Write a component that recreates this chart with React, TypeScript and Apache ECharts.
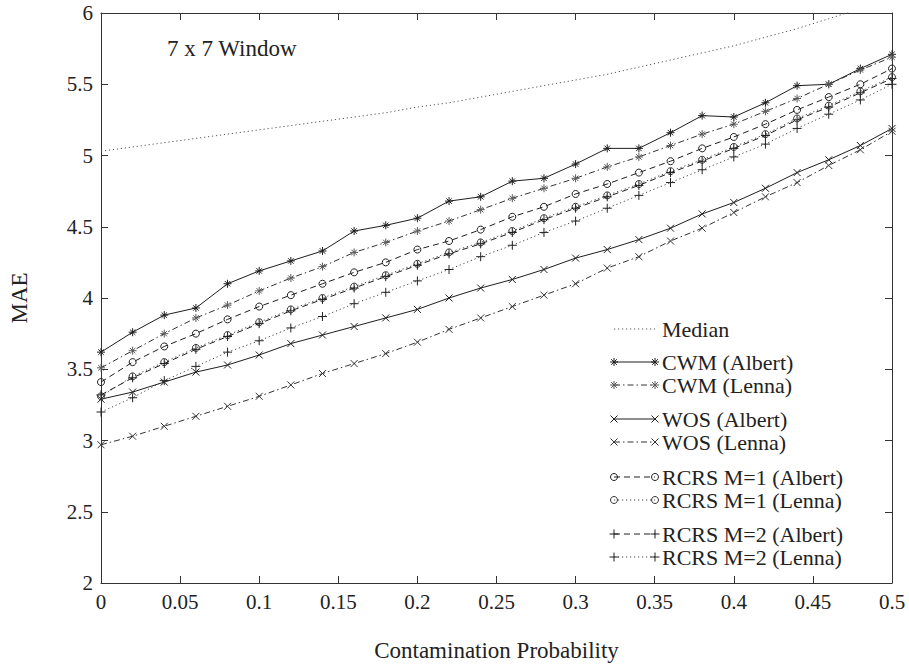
import React, { useEffect, useRef } from "react";
import * as echarts from "echarts";

// ---- data ----
const probabilities = [0, 0.02, 0.04, 0.06, 0.08, 0.1, 0.12, 0.14, 0.16, 0.18, 0.2, 0.22, 0.24, 0.26, 0.28, 0.3, 0.32, 0.34, 0.36, 0.38, 0.4, 0.42, 0.44, 0.46, 0.48, 0.5];

const medianMAE = [5.03, 5.06, 5.09, 5.12, 5.15, 5.18, 5.21, 5.24, 5.27, 5.3, 5.34, 5.37, 5.41, 5.45, 5.49, 5.53, 5.57, 5.62, 5.67, 5.72, 5.77, 5.83, 5.89, 5.96, 6.03, 6.1];
const cwmAlbert = [3.62, 3.76, 3.88, 3.93, 4.1, 4.19, 4.26, 4.33, 4.47, 4.51, 4.56, 4.68, 4.71, 4.82, 4.84, 4.94, 5.05, 5.05, 5.16, 5.28, 5.27, 5.37, 5.49, 5.5, 5.61, 5.71];
const cwmLenna = [3.51, 3.63, 3.75, 3.86, 3.95, 4.05, 4.14, 4.22, 4.32, 4.39, 4.47, 4.54, 4.62, 4.7, 4.77, 4.84, 4.92, 4.99, 5.07, 5.15, 5.22, 5.31, 5.4, 5.5, 5.6, 5.69];
const wosAlbert = [3.29, 3.34, 3.41, 3.48, 3.53, 3.6, 3.68, 3.74, 3.8, 3.86, 3.92, 4.0, 4.07, 4.13, 4.2, 4.28, 4.34, 4.41, 4.49, 4.59, 4.67, 4.77, 4.88, 4.97, 5.07, 5.19];
const wosLenna = [2.97, 3.03, 3.1, 3.17, 3.24, 3.31, 3.39, 3.47, 3.54, 3.61, 3.69, 3.78, 3.86, 3.94, 4.02, 4.1, 4.21, 4.29, 4.4, 4.49, 4.6, 4.71, 4.81, 4.93, 5.04, 5.17];
const rcrs1Albert = [3.41, 3.55, 3.66, 3.75, 3.85, 3.94, 4.02, 4.1, 4.18, 4.25, 4.34, 4.4, 4.48, 4.57, 4.64, 4.73, 4.8, 4.88, 4.96, 5.05, 5.13, 5.22, 5.32, 5.41, 5.5, 5.61];
const rcrs1Lenna = [3.31, 3.45, 3.55, 3.65, 3.74, 3.83, 3.92, 4.0, 4.08, 4.16, 4.24, 4.32, 4.39, 4.47, 4.56, 4.64, 4.72, 4.8, 4.89, 4.97, 5.06, 5.15, 5.26, 5.35, 5.45, 5.55];
const rcrs2Albert = [3.32, 3.44, 3.54, 3.64, 3.73, 3.82, 3.91, 3.99, 4.07, 4.15, 4.23, 4.31, 4.38, 4.46, 4.55, 4.63, 4.71, 4.79, 4.88, 4.96, 5.05, 5.14, 5.25, 5.34, 5.44, 5.54];
const rcrs2Lenna = [3.2, 3.3, 3.42, 3.52, 3.62, 3.7, 3.79, 3.87, 3.96, 4.04, 4.12, 4.2, 4.29, 4.37, 4.46, 4.54, 4.63, 4.72, 4.81, 4.9, 4.99, 5.08, 5.19, 5.29, 5.39, 5.5];

const xTickLabels = ["0", "0.05", "0.1", "0.15", "0.2", "0.25", "0.3", "0.35", "0.4", "0.45", "0.5"];
const yTickLabels = ["2", "2.5", "3", "3.5", "4", "4.5", "5", "5.5", "6"];

const seriesNames = [
  "Median",
  "CWM (Albert)",
  "CWM (Lenna)",
  "WOS (Albert)",
  "WOS (Lenna)",
  "RCRS M=1 (Albert)",
  "RCRS M=1 (Lenna)",
  "RCRS M=2 (Albert)",
  "RCRS M=2 (Lenna)",
];
const seriesValues = [medianMAE, cwmAlbert, cwmLenna, wosAlbert, wosLenna, rcrs1Albert, rcrs1Lenna, rcrs2Albert, rcrs2Lenna];

const titleText = "7 x 7 Window";
const xAxisTitle = "Contamination Probability";
const yAxisTitle = "MAE";

// ---- styling ----
const FONT = "'Liberation Serif', 'Times New Roman', serif";
const DARK = "#1e1e1e";

type Marker = "none" | "star" | "x" | "circle" | "plus";
const SOLID: number[] = [];
const DASHDOT = [6, 3, 1.5, 3];
const DASHED = [6, 4];
const DOTTED = [1.2, 2.8];

const styles: { marker: Marker; dash: number[]; line: string; mark: string }[] = [
  { marker: "none", dash: DOTTED, line: "#555", mark: "#555" },
  { marker: "star", dash: SOLID, line: DARK, mark: DARK },
  { marker: "star", dash: DASHDOT, line: "#333", mark: "#5a5a5a" },
  { marker: "x", dash: SOLID, line: DARK, mark: DARK },
  { marker: "x", dash: DASHDOT, line: "#333", mark: "#333" },
  { marker: "circle", dash: DASHED, line: DARK, mark: DARK },
  { marker: "circle", dash: DOTTED, line: "#444", mark: "#333" },
  { marker: "plus", dash: DASHED, line: DARK, mark: DARK },
  { marker: "plus", dash: DOTTED, line: "#444", mark: "#222" },
];

const symbolFor: Record<Marker, string> = {
  none: "none",
  star: "path://M0 5L10 5M5 0L5 10M1.6 1.6L8.4 8.4M8.4 1.6L1.6 8.4",
  x: "path://M0 0L10 10M10 0L0 10",
  plus: "path://M0 5L10 5M5 0L5 10",
  circle: "circle",
};
const sizeFor: Record<Marker, number> = { none: 0, star: 8, x: 7, plus: 9, circle: 7 };

// legend layout
const legendRowsY = [329, 362, 385, 419, 442, 477, 500, 534, 557];
const legendLineX1 = 614;
const legendLineX2 = 655;
const legendTextX = 662;

function markerGraphics(kind: Marker, cx: number, cy: number, color: string): any[] {
  const st = { stroke: color, lineWidth: 1, fill: "none" };
  const seg = (x1: number, y1: number, x2: number, y2: number) => ({
    type: "line",
    silent: true,
    shape: { x1, y1, x2, y2 },
    style: st,
  });
  if (kind === "star")
    return [seg(cx - 4, cy, cx + 4, cy), seg(cx, cy - 4, cx, cy + 4), seg(cx - 2.8, cy - 2.8, cx + 2.8, cy + 2.8), seg(cx + 2.8, cy - 2.8, cx - 2.8, cy + 2.8)];
  if (kind === "x") return [seg(cx - 3.5, cy - 3.5, cx + 3.5, cy + 3.5), seg(cx + 3.5, cy - 3.5, cx - 3.5, cy + 3.5)];
  if (kind === "plus") return [seg(cx - 4.5, cy, cx + 4.5, cy), seg(cx, cy - 4.5, cx, cy + 4.5)];
  if (kind === "circle") return [{ type: "circle", silent: true, shape: { cx, cy, r: 3.5 }, style: st }];
  return [];
}

export default function App() {
  const ref = useRef<HTMLDivElement>(null);

  useEffect(() => {
    if (!ref.current) return;
    const chart = echarts.init(ref.current, null, { renderer: "svg" });

    const axisLineStyle = { color: "#333", width: 1 };
    const labelStyle = { fontFamily: FONT, fontSize: 21, color: "#222" };
    const fmt = (v: number) => String(Number(v.toFixed(2)));

    const series: any[] = seriesNames.map((name, i) => {
      const s = styles[i];
      return {
        name,
        type: "line",
        xAxisIndex: 0,
        yAxisIndex: 0,
        data: probabilities.map((p, k) => [p, seriesValues[i][k]]),
        symbol: symbolFor[s.marker],
        symbolSize: sizeFor[s.marker],
        showSymbol: s.marker !== "none",
        clip: true,
        silent: true,
        lineStyle: { color: s.line, width: 1, type: s.dash.length ? s.dash : "solid" },
        itemStyle: { color: "rgba(0,0,0,0)", borderColor: s.mark, borderWidth: 1 },
        emphasis: { disabled: true },
        z: 2 + i,
      };
    });

    const legendGraphics: any[] = [];
    seriesNames.forEach((name, i) => {
      const s = styles[i];
      const y = legendRowsY[i];
      legendGraphics.push({
        type: "line",
        silent: true,
        shape: { x1: legendLineX1, y1: y, x2: legendLineX2, y2: y },
        style: { stroke: s.line, lineWidth: 1, lineDash: s.dash.length ? s.dash : null },
      });
      legendGraphics.push(...markerGraphics(s.marker, legendLineX1, y, s.mark));
      legendGraphics.push(...markerGraphics(s.marker, legendLineX2, y, s.mark));
      legendGraphics.push({
        type: "text",
        silent: true,
        x: legendTextX,
        y,
        style: { text: name, font: `22px ${FONT}`, fill: "#222", textVerticalAlign: "middle", verticalAlign: "middle", align: "left" },
      });
    });

    chart.setOption({
      animation: false,
      backgroundColor: "#ffffff",
      grid: { left: 101, top: 13, width: 791, height: 574, containLabel: false },
      xAxis: [
        {
          type: "value",
          position: "bottom",
          min: 0,
          max: 0.5,
          interval: 0.05,
          axisLine: { show: true, onZero: false, lineStyle: axisLineStyle },
          axisTick: { show: true, inside: true, length: 7, lineStyle: axisLineStyle },
          axisLabel: {
            ...labelStyle,
            margin: 8,
            formatter: (v: number) => {
              const idx = Math.round(v / 0.05);
              return xTickLabels[idx] ?? fmt(v);
            },
          },
          splitLine: { show: false },
          name: xAxisTitle,
          nameLocation: "middle",
          nameGap: 56,
          nameTextStyle: { fontFamily: FONT, fontSize: 23, color: "#222" },
        },
        {
          type: "value",
          position: "top",
          min: 0,
          max: 0.5,
          interval: 0.05,
          axisLine: { show: true, onZero: false, lineStyle: axisLineStyle },
          axisTick: { show: true, inside: true, length: 7, lineStyle: axisLineStyle },
          axisLabel: { show: false },
          splitLine: { show: false },
        },
      ],
      yAxis: [
        {
          type: "value",
          position: "left",
          min: 2,
          max: 6,
          interval: 0.5,
          axisLine: { show: true, onZero: false, lineStyle: axisLineStyle },
          axisTick: { show: true, inside: true, length: 7, lineStyle: axisLineStyle },
          axisLabel: {
            ...labelStyle,
            margin: 8,
            formatter: (v: number) => {
              const idx = Math.round((v - 2) / 0.5);
              return yTickLabels[idx] ?? fmt(v);
            },
          },
          splitLine: { show: false },
          name: yAxisTitle,
          nameLocation: "middle",
          nameRotate: 90,
          nameGap: 70,
          nameTextStyle: { fontFamily: FONT, fontSize: 23, color: "#222" },
        },
        {
          type: "value",
          position: "right",
          min: 2,
          max: 6,
          interval: 0.5,
          axisLine: { show: true, onZero: false, lineStyle: axisLineStyle },
          axisTick: { show: true, inside: true, length: 7, lineStyle: axisLineStyle },
          axisLabel: { show: false },
          splitLine: { show: false },
        },
      ],
      graphic: [
        {
          type: "text",
          silent: true,
          x: 167,
          y: 48,
          style: { text: titleText, font: `23px ${FONT}`, fill: "#222", verticalAlign: "middle", textVerticalAlign: "middle", align: "left" },
        },
        ...legendGraphics,
      ],
      series,
    });

    return () => chart.dispose();
  }, []);

  return <div ref={ref} style={{ position: "fixed", left: 0, top: 0, width: 909, height: 667, background: "#fff" }} />;
}
